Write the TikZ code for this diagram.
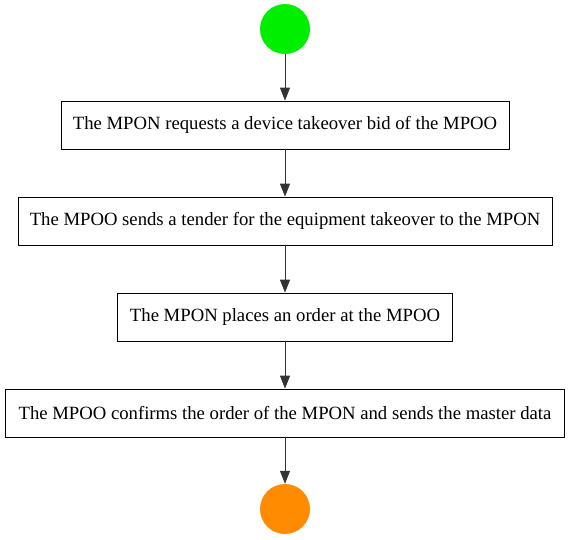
\documentclass[tikz,border=0pt]{standalone}
\usepackage{fontspec}
\setmainfont{Liberation Serif}
\usetikzlibrary{arrows.meta}
\definecolor{startg}{HTML}{00EE00}
\definecolor{endo}{HTML}{FF8C00}
\definecolor{edgec}{HTML}{333333}
\tikzset{
  actbox/.style={draw=black, line width=0.8pt, minimum height=48pt, inner sep=0pt, font=\fontsize{18.7pt}{21pt}\selectfont},
  endpt/.style={circle, minimum size=50pt, inner sep=0pt},
  flow/.style={draw=edgec, line width=0.8pt, -{Triangle[length=13pt,width=10pt]}}
}
\begin{document}
\begin{tikzpicture}[x=1pt,y=-1pt]
\useasboundingbox (0,0) rectangle (569,539);
\node[endpt, fill=startg] (s) at (285,29) {};
\node[actbox, minimum width=448pt] (a) at (285,125) {The MPON requests a device takeover bid of the MPOO};
\node[actbox, minimum width=534pt] (b) at (285,221) {The MPOO sends a tender for the equipment takeover to the MPON};
\node[actbox, minimum width=335pt] (c) at (285,317) {The MPON places an order at the MPOO};
\node[actbox, minimum width=559pt] (d) at (285,413) {The MPOO confirms the order of the MPON and sends the master data};
\node[endpt, fill=endo] (e) at (285,509) {};
\draw[flow] (s) -- (a);
\draw[flow] (a) -- (b);
\draw[flow] (b) -- (c);
\draw[flow] (c) -- (d);
\draw[flow] (d) -- (e);
\end{tikzpicture}
\end{document}
